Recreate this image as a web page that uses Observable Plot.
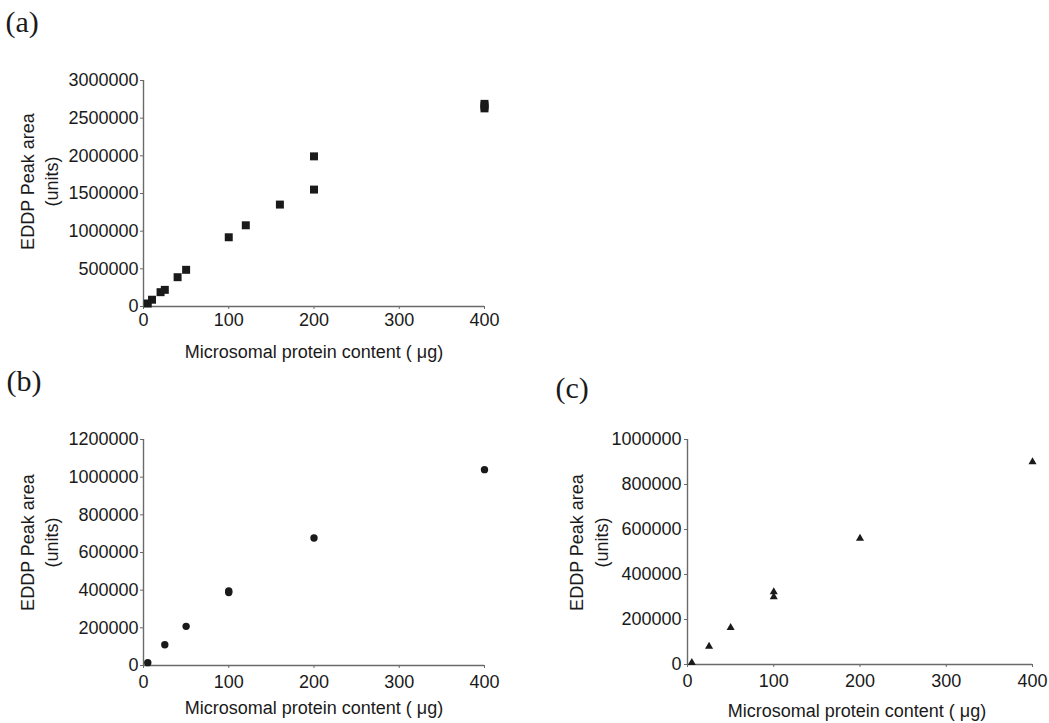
<!DOCTYPE html>
<html>
<head>
<meta charset="utf-8">
<script src="https://cdn.jsdelivr.net/npm/d3@7"></script>
<script src="https://cdn.jsdelivr.net/npm/@observablehq/plot@0.6"></script>
<style>
  html, body { margin: 0; padding: 0; background: #fff; }
  #fig { position: relative; width: 1049px; height: 723px; overflow: hidden; background: #fff; }
  .panel { position: absolute; }
</style>
</head>
<body>
<div id="fig"></div>
<script>
// Panel (a): EDDP peak area vs microsomal protein (squares)
const aProtein = [5, 10, 20, 25, 40, 50, 100, 120, 160, 200, 200, 400, 400, 400];
const aArea = [40000, 90000, 190000, 221000, 389000, 487000, 919000, 1078000, 1353000, 1552000, 1993000, 2630000, 2660000, 2690000];

// Panel (b): circles
const bProtein = [5, 25, 50, 100, 100, 200, 400];
const bArea = [15000, 110000, 208000, 388000, 396000, 677000, 1040000];

// Panel (c): triangles
const cProtein = [5, 25, 50, 100, 100, 200, 400];
const cArea = [8000, 80000, 164000, 300000, 323000, 560000, 900000];

// Axis ticks
const xTicks = [0, 100, 200, 300, 400];
const aTicks = [0, 500000, 1000000, 1500000, 2000000, 2500000, 3000000];
const bTicks = [0, 200000, 400000, 600000, 800000, 1000000, 1200000];
const cTicks = [0, 200000, 400000, 600000, 800000, 1000000];

// Text
const xTitle = "Microsomal protein content ( \u03bcg)";
const yTitle1 = "EDDP Peak area";
const yTitle2 = "(units)";

const ink = "#1a1a1a";
const axisGray = "#6a6a6a";

function panel(o) {
  const rows = o.protein.map((p, i) => ({protein: p, area: o.area[i]}));
  const frameMidY = o.mt + (o.height - o.mt - o.mb) / 2;
  const chart = Plot.plot({
    width: o.width,
    height: o.height,
    marginLeft: o.ml,
    marginRight: o.mr,
    marginTop: o.mt,
    marginBottom: o.mb,
    style: {fontFamily: "'Liberation Sans', Arial, sans-serif", fontSize: "18px", color: ink, background: "transparent", overflow: "visible"},
    x: {domain: [0, 400]},
    y: {domain: [0, o.yTicks[o.yTicks.length - 1]]},
    marks: [
      Plot.ruleY([0], {stroke: axisGray, strokeWidth: 1.6}),
      Plot.ruleX([0], {stroke: axisGray, strokeWidth: 1.4}),
      Plot.axisY({ticks: o.yTicks, tickSize: 3, tickPadding: o.yPad, tickFormat: d3.format("d"), label: null, stroke: axisGray, fill: ink}),
      Plot.axisX({ticks: xTicks, tickSize: 3, tickPadding: o.xPad, tickFormat: d3.format("d"), label: null, stroke: axisGray, fill: ink}),
      Plot.dot(rows, {x: "protein", y: "area", symbol: o.symbol, r: o.r, fill: ink, stroke: "none"}),
      Plot.text([xTitle], {text: d => d, frameAnchor: "bottom", dx: o.titleDx, dy: o.titleDy, textAnchor: "middle", lineAnchor: "middle", fill: ink}),
      Plot.text([yTitle1], {text: d => d, frameAnchor: "left", rotate: -90, dx: o.y1x - o.ml, dy: o.yMid - frameMidY, textAnchor: "middle", lineAnchor: "middle", fill: ink}),
      Plot.text([yTitle2], {text: d => d, frameAnchor: "left", rotate: -90, dx: o.y2x - o.ml, dy: o.yMid - frameMidY, textAnchor: "middle", lineAnchor: "middle", fill: ink}),
      Plot.text([o.tag], {text: d => d, frameAnchor: "top-left", dx: o.tagX - o.ml, dy: o.tagBase - o.mt, textAnchor: "start", lineAnchor: "bottom", fontFamily: "'Liberation Serif', 'Times New Roman', serif", fontSize: 30, fill: ink})
    ]
  });
  const holder = document.createElement("div");
  holder.className = "panel";
  holder.style.left = o.left + "px";
  holder.style.top = o.top + "px";
  holder.appendChild(chart);
  document.getElementById("fig").appendChild(holder);
}

panel({
  protein: aProtein, area: aArea, symbol: "square", r: 4.5, yTicks: aTicks, tag: "(a)",
  left: 0, top: 0, width: 520, height: 370,
  ml: 143, mr: 36, mt: 80, mb: 64, yPad: 2, xPad: 4,
  titleDx: 0, titleDy: 46, y1x: 28, y2x: 52, yMid: 181, tagX: 5, tagBase: 31
});

panel({
  protein: bProtein, area: bArea, symbol: "circle", r: 3.7, yTicks: bTicks, tag: "(b)",
  left: 0, top: 362, width: 520, height: 361,
  ml: 143, mr: 36, mt: 77, mb: 58, yPad: 2, xPad: 7,
  titleDx: 0, titleDy: 43, y1x: 28, y2x: 52, yMid: 180, tagX: 6, tagBase: 28
});

panel({
  protein: cProtein, area: cArea, symbol: "triangle", r: 3, yTicks: cTicks, tag: "(c)",
  left: 520, top: 362, width: 529, height: 361,
  ml: 167, mr: 17, mt: 77, mb: 59, yPad: 3, xPad: 7,
  titleDx: -3, titleDy: 47, y1x: 57, y2x: 82, yMid: 180, tagX: 35, tagBase: 35
});
</script>
</body>
</html>
